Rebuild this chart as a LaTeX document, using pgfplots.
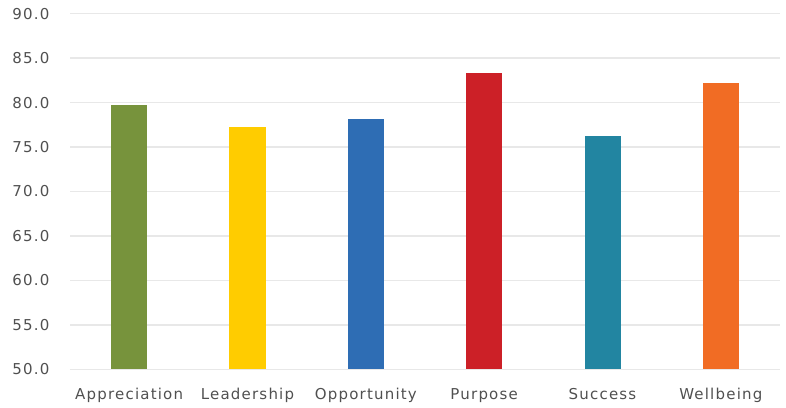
\documentclass[border=0pt]{standalone}
\usepackage{fontspec}
\setmainfont[LetterSpace=8]{DejaVu Sans}
\usepackage{pgfplots}
\pgfplotsset{compat=1.18}
\definecolor{cgreen}{RGB}{119,147,60}
\definecolor{cyellow}{RGB}{255,204,0}
\definecolor{cblue}{RGB}{46,109,180}
\definecolor{cred}{RGB}{204,32,39}
\definecolor{cteal}{RGB}{34,133,161}
\definecolor{corange}{RGB}{241,108,36}
\definecolor{textgray}{RGB}{80,80,80}
\definecolor{gridgray}{RGB}{232,232,232}
\begin{document}
\begin{tikzpicture}
\begin{axis}[
  scale only axis,
  width=710pt, height=355.6pt,
  xmin=-0.5, xmax=5.5,
  ymin=50, ymax=90,
  ytick={50,55,...,90},
  xtick={0,1,2,3,4,5},
  xticklabels={Appreciation,Leadership,Opportunity,Purpose,Success,Wellbeing},
  ymajorgrids,
  grid style={draw=gridgray, line width=1.3pt},
  axis x line*=bottom,
  axis y line*=left,
  x axis line style={draw=gridgray, line width=1.3pt, -},
  y axis line style={draw=none},
  major tick length=0pt,
  tick label style={font=\fontsize{15}{17}\selectfont, text=textgray},
  /pgf/number format/assume math mode=true,
  yticklabel style={/pgf/number format/fixed, /pgf/number format/fixed zerofill, /pgf/number format/precision=1, xshift=-17pt},
  xticklabel style={yshift=-15.5pt},
  ybar, bar width=36pt, bar shift=0pt,
  clip=false,
]
\addplot[fill=cgreen, draw=none] coordinates {(0,79.7)};
\addplot[fill=cyellow, draw=none] coordinates {(1,77.3)};
\addplot[fill=cblue, draw=none] coordinates {(2,78.2)};
\addplot[fill=cred, draw=none] coordinates {(3,83.3)};
\addplot[fill=cteal, draw=none] coordinates {(4,76.2)};
\addplot[fill=corange, draw=none] coordinates {(5,82.2)};
\end{axis}
\pgfresetboundingbox
\path ([shift={(-70pt,-37.7pt)}]current axis.south west) rectangle ([shift={(6pt,13.7pt)}]current axis.north east);
\end{tikzpicture}
\end{document}
